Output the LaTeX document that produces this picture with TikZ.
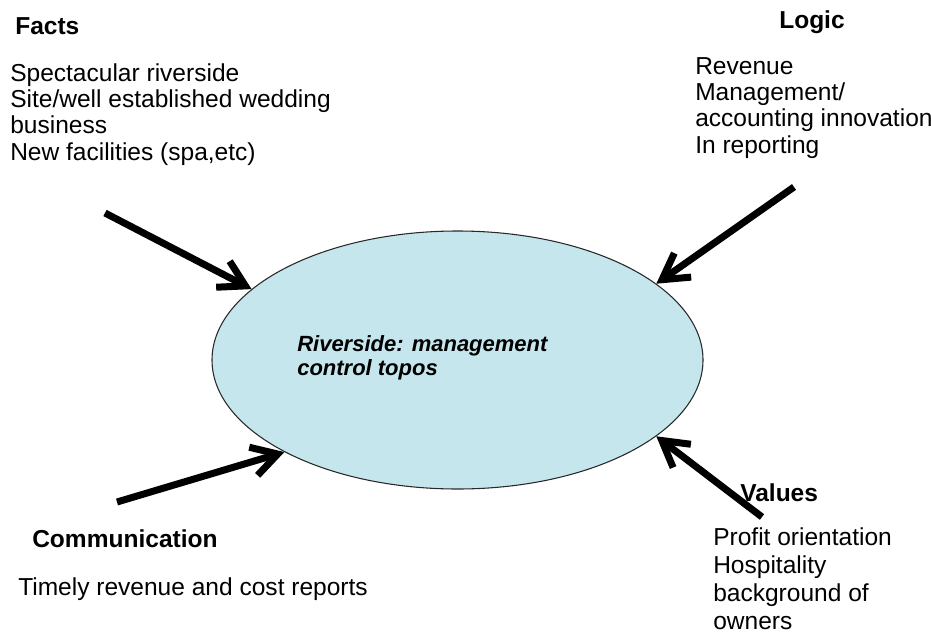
\documentclass[tikz,border=0pt]{standalone}
\usepackage{fontspec}
\setmainfont{Liberation Sans}
\usetikzlibrary{shapes.geometric,arrows.meta}

\definecolor{toposblue}{RGB}{197,230,237}
\definecolor{rim}{RGB}{40,40,40}

\tikzstyle{heading} = [anchor=north west,inner sep=0,font=\fontsize{18.4}{19.5}\selectfont\bfseries]
\tikzstyle{body} = [anchor=north west,inner sep=0,align=left,font=\fontsize{18.4}{19.8}\selectfont]
\tikzstyle{topos} = [ellipse,draw=rim,line width=0.8pt,fill=toposblue,inner sep=0,minimum width=368.25pt,minimum height=193.5pt]
\tikzstyle{feed} = [line width=5.25pt,-{Straight Barb[length=19pt,width=22pt]}]

\begin{document}
\begin{tikzpicture}[x=0.75pt,y=-0.75pt]
	\useasboundingbox (0,0) rectangle (931,635);
	
	\node[topos] (topos) at (457.5,360) {};
	\node[anchor=north west,inner sep=0,align=left,font=\fontsize{16.5}{18}\selectfont\bfseries\itshape] (title) at (297,335) {Riverside: management\\control topos};
	
	\node[heading] (facts) at (15,17) {Facts};
	\node[body] (factslist) at (10,63) {Spectacular riverside\\Site/well established wedding\\business\\New facilities (spa,etc)};
	
	\node[heading] (logic) at (779,10) {Logic};
	\node[body] (logiclist) at (695,57) {Revenue\\Management/\\accounting innovation\\In reporting};
	
	\node[heading] (comm) at (32,529) {Communication};
	\node[body] (commlist) at (18,577) {Timely revenue and cost reports};
	
	\node[heading] (values) at (740,483) {Values};
	\node[body,font=\fontsize{18.4}{21}\selectfont] (valueslist) at (713,527) {Profit orientation\\Hospitality\\background of\\owners};
	
	\coordinate (f0) at (105,213);
	\coordinate (l0) at (794,187);
	\coordinate (c0) at (117,502);
	\coordinate (v0) at (762,517);
	
	\draw[feed] (f0) -- (topos.161);
	\draw[feed] (l0) -- (topos.21);
	\draw[feed] (c0) -- (topos.-152);
	\draw[feed] (v0) -- (topos.-21);
\end{tikzpicture}
\end{document}
